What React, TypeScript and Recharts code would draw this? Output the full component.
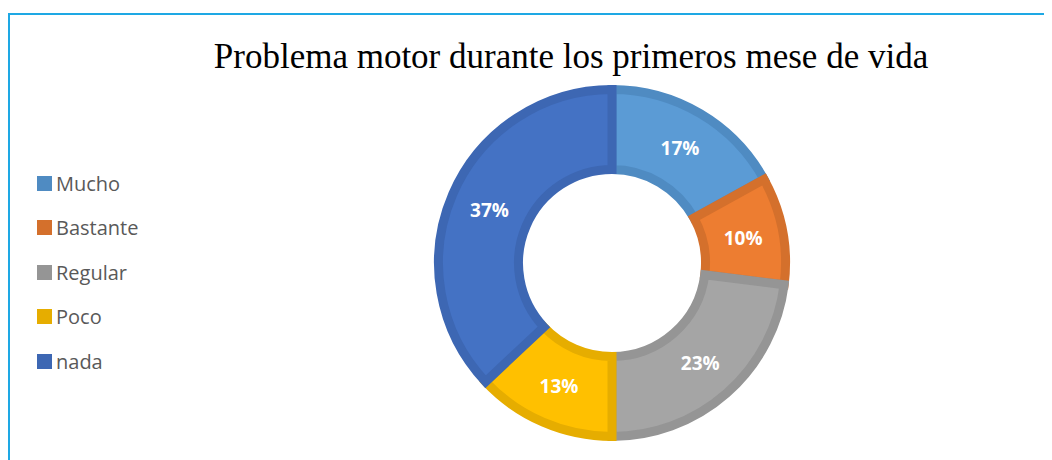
import { PieChart, Pie, Cell } from "recharts";

const categories = ["Mucho", "Bastante", "Regular", "Poco", "nada"];
const percentages = [17, 10, 23, 13, 37];
const fills = ["#5b9bd5", "#ed7d31", "#a5a5a5", "#ffc000", "#4472c4"];
const borders = ["#4f8bc2", "#d4702c", "#959595", "#e6ad00", "#3d67b3"];

const data = categories.map((name, i) => ({ name, value: percentages[i] }));

const RADIAN = Math.PI / 180;

const renderLabel = (props: any) => {
  const { cx, cy, midAngle, innerRadius, outerRadius, value } = props;
  const r = (innerRadius + outerRadius) / 2;
  const x = cx + r * Math.cos(-midAngle * RADIAN);
  const y = cy + r * Math.sin(-midAngle * RADIAN);
  return (
    <text
      x={x}
      y={y}
      fill="#ffffff"
      textAnchor="middle"
      dominantBaseline="central"
      style={{ fontFamily: "'Open Sans', sans-serif", fontWeight: 700, fontSize: 19 }}
    >
      {`${value}%`}
    </text>
  );
};

export default function App() {
  return (
    <div style={{ position: "relative", width: 1044, height: 452, overflow: "hidden", background: "#fff" }}>
      <div
        style={{
          position: "absolute",
          left: 0,
          top: 5,
          width: 1100,
          height: 500,
          borderTop: "2px solid #1ea8e4",
          borderLeft: "2px solid #1ea8e4",
        }}
      />
      <div
        style={{
          position: "absolute",
          top: 29,
          left: 0,
          width: 1126,
          textAlign: "center",
          fontFamily: "'Liberation Serif', 'Times New Roman', serif",
          fontSize: 35,
          lineHeight: "40px",
          color: "#000",
        }}
      >
        Problema motor durante los primeros mese de vida
      </div>
      <div
        style={{
          position: "absolute",
          left: 29,
          top: 153,
          fontFamily: "'Open Sans', sans-serif",
          fontSize: 20,
          color: "#595959",
        }}
      >
        {categories.map((c, i) => (
          <div key={c} style={{ display: "flex", alignItems: "center", height: 44.5 }}>
            <span
              style={{ width: 15, height: 15, background: borders[i], display: "inline-block", marginRight: 4 }}
            />
            <span>{c}</span>
          </div>
        ))}
      </div>
      <PieChart width={1044} height={452} style={{ position: "absolute", left: 0, top: 0 }}>
        <Pie
          data={data}
          dataKey="value"
          nameKey="name"
          cx={599}
          cy={250}
          innerRadius={93.5}
          outerRadius={173.5}
          startAngle={90}
          endAngle={-270}
          strokeWidth={9}
          label={renderLabel}
          labelLine={false}
          isAnimationActive={false}
        >
          {data.map((d, i) => (
            <Cell key={d.name} fill={fills[i]} stroke={borders[i]} />
          ))}
        </Pie>
      </PieChart>
    </div>
  );
}
